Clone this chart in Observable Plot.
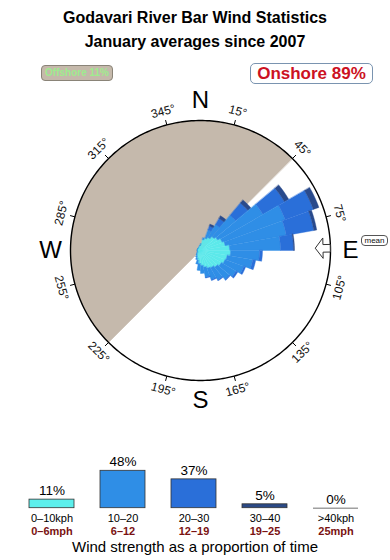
<!DOCTYPE html>
<html><head><meta charset="utf-8">
<script src="https://cdn.jsdelivr.net/npm/d3@7"></script>
<script src="https://cdn.jsdelivr.net/npm/@observablehq/plot@0.6"></script>
<style>
body{margin:0;background:#fff;font-family:"Liberation Sans",Arial,sans-serif}
#wrap{position:relative;width:390px;height:560px;overflow:hidden;background:#fff}
.abs{position:absolute;box-sizing:border-box;white-space:nowrap}
.title{left:0;width:390px;text-align:center;font-weight:bold;font-size:16px;line-height:16px;color:#000}
#off{left:41px;top:65px;width:72px;height:16px;border:1px solid #8a8478;border-radius:4px;background:#c5b9ab;color:#9eec8e;font-size:10px;font-weight:bold;text-align:center;line-height:14px}
#on{left:250px;top:63px;width:123px;height:21px;border:1px solid #7a94b0;border-radius:5px;background:#fff;color:#cc1122;font-size:17px;font-weight:bold;text-align:center;line-height:19px}
#mean{left:361px;top:235px;width:27px;height:11px;border:1px solid #555;border-radius:4px;background:#fff;color:#111;font-size:8px;text-align:center;line-height:9px}
#cap{left:0;width:390px;top:539px;text-align:center;font-size:15px;line-height:16px;color:#000}
#rose{left:0;top:70px}
#leg{left:0;top:440px}
</style></head>
<body><div id="wrap">
<div class="abs" id="rose"></div>
<div class="abs" id="leg"></div>
<div class="abs title" id="t1" style="top:10px"></div>
<div class="abs title" id="t2" style="top:34px"></div>
<div class="abs" id="off"></div>
<div class="abs" id="on"></div>
<div class="abs" id="mean"></div>
<div class="abs" id="cap"></div>
</div>
<script>
// ---- texts ----
const titleText = "Godavari River Bar Wind Statistics";
const subtitleText = "January averages since 2007";
const offshoreText = "Offshore 11%";
const onshoreText = "Onshore 89%";
const meanText = "mean";
const captionText = "Wind strength as a proportion of time";

// ---- rose data: direction bins (start angle, deg) and band lengths ----
const dirStart = [0,10,20,30,40,50,60,70,80,90,100,110,120,130,140,150,160,170,180,190,200,210,220,230,240,250,260,270,280,290,300,310,320,330,340,350];
const band1 = [0.6,1.1,1.3,1.5,1.8,2.0,2.3,2.5,2.9,3.0,2.7,2.6,2.4,2.2,2.0,1.9,1.7,1.5,1.3,1.0,0.8,0.6,0.5,0.4,0.3,0.3,0.3,0.3,0.3,0.3,0.3,0.3,0.3,0.3,0.4,0.5];
const band2 = [0.1,0.2,0.9,1.5,2.8,5.2,6.7,6.2,5.1,2.9,2.6,2.0,1.7,1.6,1.4,1.2,1.0,0.8,0.7,0.4,0.2,0.2,0.1,0.1,0.05,0.05,0.05,0.05,0.05,0.05,0.05,0.05,0.05,0.05,0.05,0.05];
const band3 = [0,0,0.4,0.7,1.6,2.5,3.0,2.8,1.3,0.3,0.3,0.2,0.2,0.1,0.1,0.1,0.1,0,0,0,0,0,0,0,0,0,0,0,0,0,0,0,0,0,0,0];
const band4 = [0,0,0.2,0.3,0.4,0.5,0.6,0.3,0.1,0,0,0,0,0,0,0,0,0,0,0,0,0,0,0,0,0,0,0,0,0,0,0,0,0,0,0];
const band5 = dirStart.map(() => 0);

// ---- bands / legend ----
const bandNames = ["0–10kph","10–20","20–30","30–40",">40kph"];
const bandMph = ["0–6mph","6–12","12–19","19–25","25mph"];
const bandShare = [11,48,37,5,0];

// ---- compass ----
const offshoreFrom = 225, offshoreTo = 405; // offshore sector (deg)
const meanDir = 89;
const tickAngles = [15,45,75,105,135,165,195,225,255,285,315,345];
const compassLetters = ["N","E","S","W"];
const compassAngles = [0,90,180,270];
const ringRadius = 13;

// ---- styles ----
const roseColors = ["#5ce9ea","#2f8ee6","#2a6fd9","#294a8c","#aaaaaa"];
const legColors  = ["#5cefec","#2f8ee6","#2a6fd9","#2b4a86","#aaaaaa"];
const font = '"Liberation Sans", Arial, sans-serif';

document.getElementById("t1").textContent = titleText;
document.getElementById("t2").textContent = subtitleText;
document.getElementById("off").textContent = offshoreText;
document.getElementById("on").textContent = onshoreText;
document.getElementById("mean").textContent = meanText;
document.getElementById("cap").textContent = captionText;

const rad = d => d * Math.PI / 180;
const polar = (r, a) => ({x: r * Math.sin(rad(a)), y: r * Math.cos(rad(a))});

// rose polygons
const bands = [band1, band2, band3, band4, band5];
const binWidth = dirStart[1] - dirStart[0];
const rose = [];
dirStart.forEach((a0, i) => {
  let r0 = 0;
  bands.forEach((vals, b) => {
    const v = vals[i];
    if (!(v > 0)) return;
    const r1 = r0 + v;
    const id = i + "-" + b;
    for (let a = a0; a <= a0 + binWidth; a += 1) rose.push({...polar(r1, a), id, band: bandNames[b]});
    for (let a = a0 + binWidth; a >= a0; a -= 1) rose.push({...polar(r0, a), id, band: bandNames[b]});
    r0 = r1;
  });
});

// offshore sector
const sector = [{x: 0, y: 0}];
for (let a = offshoreFrom; a <= offshoreTo; a += 1) sector.push(polar(ringRadius, a));

// ring
const ring = d3.range(0, 361).map(a => polar(ringRadius, a));

// ticks
const ticks = tickAngles.map(a => {
  const p1 = polar(ringRadius, a), p2 = polar(ringRadius + 0.5, a);
  return {x1: p1.x, y1: p1.y, x2: p2.x, y2: p2.y};
});
const tickLabels = tickAngles.map(a => ({...polar(14.4, a), text: a + "°",
  rotate: a <= 90 ? a : a >= 270 ? a - 360 : a - 180}));
const compass = compassLetters.map((t, i) => ({...polar(15.0, compassAngles[i]), text: t}));

// mean arrow (hollow)
const arrowLocal = [[11.5,0],[12.25,1.0],[12.25,0.38],[12.98,0.38],[12.98,-0.38],[12.25,-0.38],[12.25,-1.0]];
const arrow = arrowLocal.map(([u, w]) => {
  const t = rad(meanDir);
  return {x: u * Math.sin(t) + w * Math.cos(t), y: u * Math.cos(t) - w * Math.sin(t)};
});

const rosePlot = Plot.plot({
  width: 390, height: 360,
  marginLeft: 20, marginRight: 10, marginTop: 0, marginBottom: 0,
  style: {fontFamily: font, background: "transparent"},
  x: {domain: [-18, 18], axis: null},
  y: {domain: [-18, 18], axis: null},
  color: {domain: bandNames, range: roseColors},
  marks: [
    Plot.line(sector, {x: "x", y: "y", curve: "linear-closed", fill: "#c5b9ac", stroke: "#c5b9ac", strokeWidth: 0.5}),
    Plot.line(rose, {x: "x", y: "y", z: "id", curve: "linear-closed", fill: "band", stroke: "band", strokeWidth: 0.4}),
    Plot.line(ring, {x: "x", y: "y", stroke: "#000", strokeWidth: 1.4}),
    Plot.link(ticks, {x1: "x1", y1: "y1", x2: "x2", y2: "y2", stroke: "#000", strokeWidth: 1}),
    Plot.line(arrow, {x: "x", y: "y", curve: "linear-closed", fill: "#fff", stroke: "#333", strokeWidth: 1}),
    Plot.text(tickLabels, {x: "x", y: "y", text: "text", rotate: "rotate", fontSize: 12, fill: "#111"}),
    Plot.text(compass, {x: "x", y: "y", text: "text", fontSize: 24, fill: "#000"})
  ]
});
document.getElementById("rose").append(rosePlot);

// legend bar chart
const legend = bandNames.map((name, i) => ({name, mph: bandMph[i], share: bandShare[i]}));
const legPlot = Plot.plot({
  width: 390, height: 120,
  marginLeft: 2.4, marginRight: 6, marginTop: 30.3, marginBottom: 52.3,
  style: {fontFamily: font, background: "transparent"},
  x: {domain: bandNames, padding: 0.367, axis: null},
  y: {domain: [0, d3.max(bandShare)], axis: null},
  color: {domain: bandNames, range: legColors},
  marks: [
    Plot.barY(legend.filter(d => d.share > 0), {x: "name", y: "share", fill: "name", stroke: "#333", strokeWidth: 0.8}),
    Plot.tickY(legend.filter(d => d.share === 0), {x: "name", y: "share", stroke: "#a0a0a0", strokeWidth: 1.5}),
    Plot.text(legend, {x: "name", y: "share", text: d => d.share + "%", dy: -9, fontSize: 13.5, fill: "#000"}),
    Plot.text(legend, {x: "name", frameAnchor: "bottom", lineAnchor: "middle", text: "name", dy: 10.6, fontSize: 11, fill: "#000"}),
    Plot.text(legend, {x: "name", frameAnchor: "bottom", lineAnchor: "middle", text: "mph", dy: 23.6, fontSize: 11, fontWeight: "bold", fill: "#7a1212"})
  ]
});
document.getElementById("leg").append(legPlot);
</script>
</body></html>
